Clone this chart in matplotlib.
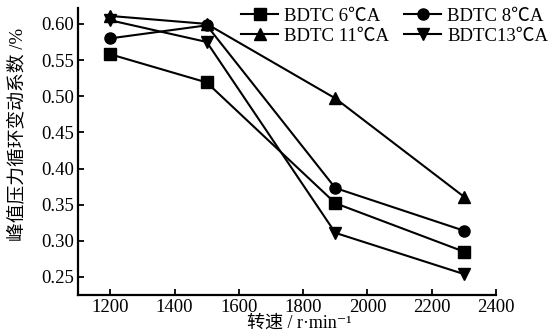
import matplotlib

matplotlib.use("Agg")
import matplotlib.pyplot as plt

plt.rcParams["font.family"] = ["Liberation Serif", "Noto Sans CJK SC", "DejaVu Sans"]

speed = [1200, 1500, 1900, 2300]
bdtc6 = [0.558, 0.519, 0.352, 0.285]
bdtc8 = [0.580, 0.598, 0.373, 0.314]
bdtc11 = [0.611, 0.600, 0.497, 0.361]
bdtc13 = [0.605, 0.575, 0.311, 0.254]
labels = ["BDTC 6℃A", "BDTC 8℃A", "BDTC 11℃A", "BDTC13℃A"]
markers = ["s", "o", "^", "v"]

fig = plt.figure(figsize=(5.5, 3.33), dpi=100)
ax = fig.add_axes([0.142, 0.114, 0.760, 0.862])

handles = []
for ys, m, lab in zip([bdtc6, bdtc8, bdtc11, bdtc13], markers, labels):
    h, = ax.plot(speed, ys, color="black", marker=m, markersize=8, linewidth=1.5, label=lab)
    handles.append(h)

ax.set_xlim(1100, 2400)
ax.set_ylim(0.225, 0.622)
ax.set_xticks([1200, 1400, 1600, 1800, 2000, 2200, 2400])
ax.set_yticks([0.25, 0.30, 0.35, 0.40, 0.45, 0.50, 0.55, 0.60])
ax.set_yticklabels([f"{v:.2f}" for v in ax.get_yticks()])
ax.tick_params(direction="in", length=4, width=1.3, labelsize=13.5, pad=3)
for side in ["top", "right"]:
    ax.spines[side].set_visible(False)
for side in ["left", "bottom"]:
    ax.spines[side].set_linewidth(1.6)

ax.set_xlabel("转速 / r·min⁻¹", fontsize=13, va="center")
ax.xaxis.set_label_coords(0.53, -0.098)
ax.set_ylabel("峰值压力循环变动系数 /%", fontsize=13.5, va="center")
ax.yaxis.set_label_coords(-0.145, 0.56)

# legend order: row-wise (6, 8 / 11, 13)
order = [0, 2, 1, 3]
fig.legend([handles[i] for i in order], [labels[i] for i in order], ncol=2,
           loc="upper right", bbox_to_anchor=(1.01, 1.0), frameon=False,
           fontsize=13.5, handlelength=2.0, handletextpad=0.3, columnspacing=0.8,
           labelspacing=0.15, borderaxespad=0.0)

fig.savefig("out.png", dpi=100)
